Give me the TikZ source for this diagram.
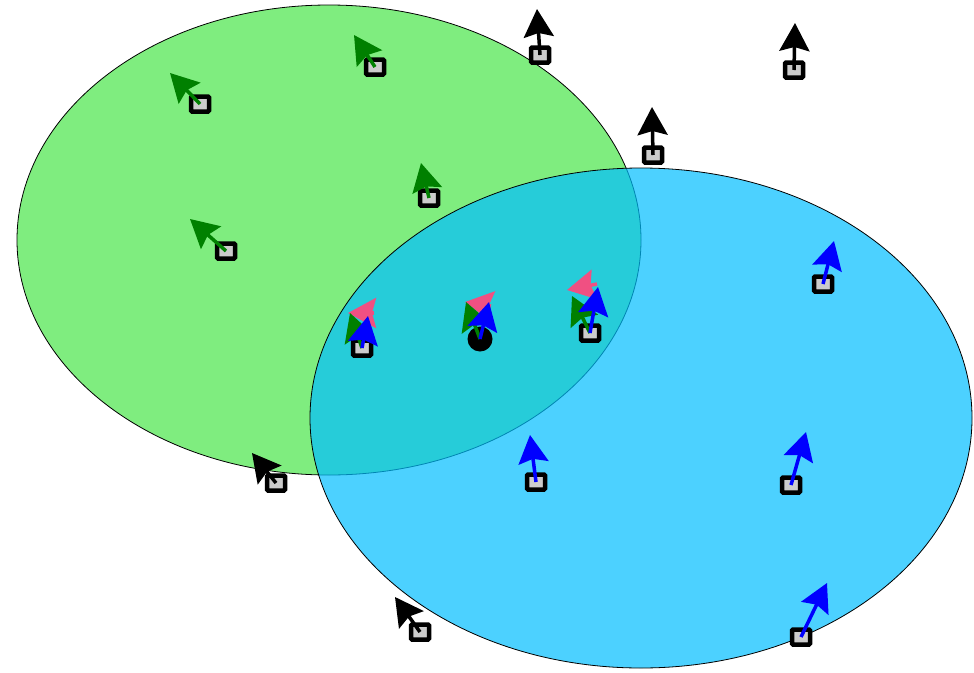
\documentclass[tikz,border=0pt]{standalone}
\usetikzlibrary{arrows.meta}
\definecolor{zonegreen}{RGB}{0,220,0}
\definecolor{zoneblue}{RGB}{0,190,255}
\definecolor{headgreen}{RGB}{0,128,0}
\definecolor{headpink}{RGB}{240,80,130}
\tikzset{
  agent/.style={draw=black, line width=4.5pt, fill=gray!40, minimum width=18pt,
    minimum height=15pt, inner sep=0pt, rounded corners=1pt},
  focal/.style={circle, fill=black, minimum size=25pt, inner sep=0pt},
  heading/.style={line width=3.5pt, -{Stealth[length=28pt,width=30pt,inset=4pt]}},
}
\begin{document}
\begin{tikzpicture}[x=1pt,y=-1pt]
      \useasboundingbox (0,0) rectangle (974,672);
      \draw[fill=zonegreen, fill opacity=0.5, line width=0.8pt]
        (329,240) ellipse [x radius=312, y radius=235];
      \draw[fill=zoneblue, fill opacity=0.7, line width=0.8pt]
        (641,418) ellipse [x radius=331, y radius=250];
      \path
        (200,104) node[agent] (g1){}
        (375,67) node[agent] (g2){}
        (429,198) node[agent] (g3){}
        (226,251) node[agent] (g4){}
        (540,55) node[agent] (k1){}
        (794,70) node[agent] (k2){}
        (653,155) node[agent] (k3){}
        (276,483) node[agent] (k4){}
        (420,632) node[agent] (k5){}
        (823,284) node[agent] (b1){}
        (536,482) node[agent] (b2){}
        (791,485) node[agent] (b3){}
        (801,637) node[agent] (b4){}
        (362,348) node[agent] (m1){}
        (590,333) node[agent] (m2){}
        (480,339) node[focal] (f){};
      \path
        (170,73) coordinate (g1h)
        (354,35) coordinate (g2h)
        (421,163) coordinate (g3h)
        (190,219) coordinate (g4h)
        (537,9) coordinate (k1h)
        (795,23) coordinate (k2h)
        (652,107) coordinate (k3h)
        (252,453) coordinate (k4h)
        (395,597) coordinate (k5h)
        (834,241) coordinate (b1h)
        (530,435) coordinate (b2h)
        (806,432) coordinate (b3h)
        (827,583) coordinate (b4h)
        (374,313) coordinate (m1p) (348,313) coordinate (m1ph)
        (350,313) coordinate (m1gh) (368,316) coordinate (m1bh)
        (491,306) coordinate (fp) (465,302) coordinate (fph)
        (466,302) coordinate (fgh) (489,302) coordinate (fbh)
        (597,284) coordinate (m2p) (567,290) coordinate (m2ph)
        (572,296) coordinate (m2gh) (598,287) coordinate (m2bh);
      \begin{scope}[heading]
        \draw[headgreen] (g1.center) to (g1h);
        \draw[headgreen] (g2.center) to (g2h);
        \draw[headgreen] (g3.center) to (g3h);
        \draw[headgreen] (g4.center) to (g4h);
        \draw[black] (k1.center) to (k1h);
        \draw[black] (k2.center) to (k2h);
        \draw[black] (k3.center) to (k3h);
        \draw[black] (k4.center) to (k4h);
        \draw[black] (k5.center) to (k5h);
        \draw[blue] (b1.center) to (b1h);
        \draw[blue] (b2.center) to (b2h);
        \draw[blue] (b3.center) to (b3h);
        \draw[blue] (b4.center) to (b4h);
        % mixed neighbourhood
        \draw[headpink] (m1p) to (m1ph);
        \draw[headgreen] (m1.center) to (m1gh);
        \draw[blue] (m1.center) to (m1bh);
        \draw[headpink] (fp) to (fph);
        \draw[headgreen] (f.center) to (fgh);
        \draw[blue] (f.center) to (fbh);
        \draw[headpink] (m2p) to (m2ph);
        \draw[headgreen] (m2.center) to (m2gh);
        \draw[blue] (m2.center) to (m2bh);
      \end{scope}
    \end{tikzpicture}
\end{document}
